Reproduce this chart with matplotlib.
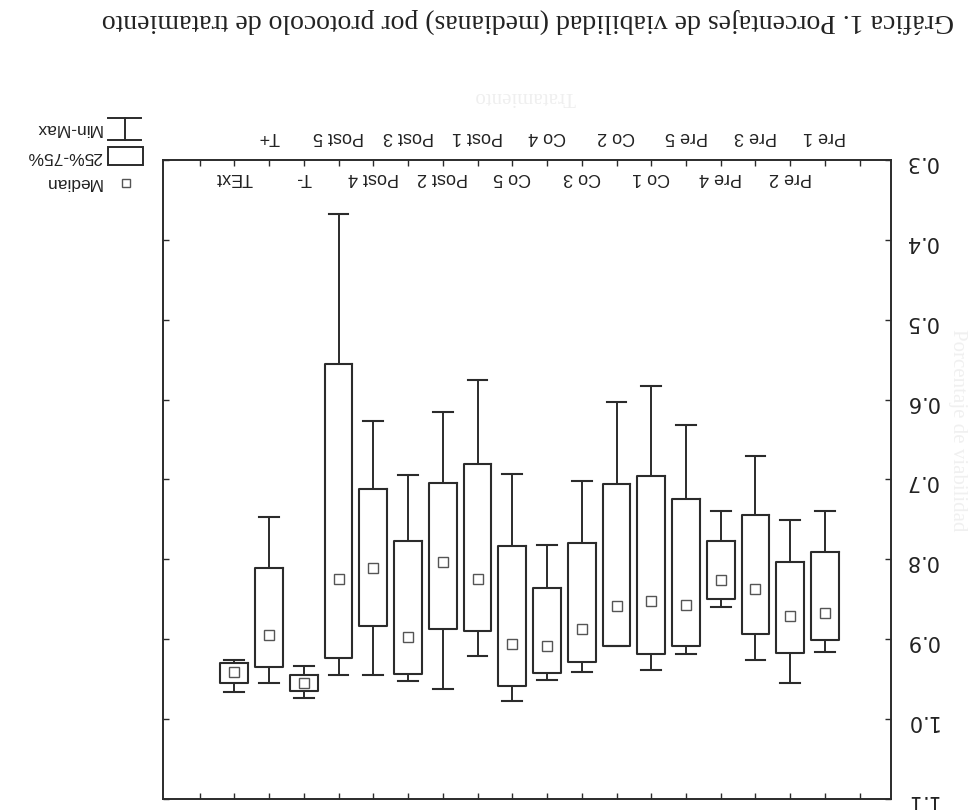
import matplotlib.pyplot as plt
import numpy as np
from matplotlib.patches import Rectangle

# Scanned page is upside down, so the whole chart is drawn rotated by 180 degrees
labels = ["Pre 1", "Pre 2", "Pre 3", "Pre 4", "Pre 5", "Co 1", "Co 2", "Co 3", "Co 4",
          "Co 5", "Post 1", "Post 2", "Post 3", "Post 4", "Post 5", "T-", "T+", "TExt"]
mins = [0.739, 0.751, 0.671, 0.740, 0.632, 0.583, 0.6025, 0.702, 0.7825,
        0.693, 0.576, 0.616, 0.695, 0.627, 0.368, 0.934, 0.7475, 0.926]
q1 = [0.7905, 0.803, 0.744, 0.7775, 0.724, 0.696, 0.706, 0.7795, 0.836,
      0.783, 0.680, 0.705, 0.7775, 0.7125, 0.555, 0.945, 0.811, 0.930]
medians = [0.8675, 0.871, 0.8375, 0.826, 0.8575, 0.852, 0.858, 0.887, 0.908,
           0.906, 0.825, 0.803, 0.897, 0.811, 0.824, 0.955, 0.895, 0.941]
q3 = [0.901, 0.917, 0.894, 0.850, 0.908, 0.9185, 0.909, 0.929, 0.942,
      0.959, 0.890, 0.887, 0.943, 0.884, 0.923, 0.965, 0.935, 0.955]
maxs = [0.9155, 0.955, 0.926, 0.860, 0.918, 0.939, 0.909, 0.941, 0.951,
        0.977, 0.921, 0.962, 0.952, 0.945, 0.945, 0.973, 0.955, 0.966]
yticks = [0.3, 0.4, 0.5, 0.6, 0.7, 0.8, 0.9, 1.0, 1.1]

title = "Gráfica 1. Porcentajes de viabilidad (medianas) por protocolo de tratamiento"
ink = "#2b2b2b"

fig = plt.figure(figsize=(9.74, 8.10), dpi=100)

# overlay in pixel coordinates for title / legend / faint labels
ov = fig.add_axes([0, 0, 1, 1])
ov.set_xlim(0, 974)
ov.set_ylim(810, 0)
ov.axis("off")

ax = fig.add_axes([0.1674, 0.0136, 0.7474, 0.7889])
pos = np.arange(len(labels))
stats = [dict(whislo=a, q1=b, med=c, q3=d, whishi=e)
         for a, b, c, d, e in zip(mins, q1, medians, q3, maxs)]
ax.bxp(stats, positions=pos, widths=0.8, capwidths=0.57, showfliers=False,
       boxprops=dict(color=ink, linewidth=1.5),
       whiskerprops=dict(color=ink, linewidth=1.4),
       capprops=dict(color=ink, linewidth=1.5),
       medianprops=dict(linewidth=0))
ax.plot(pos, medians, "s", ms=7, mfc="white", mec="#555555", mew=1.0, ls="none")

ax.set_xlim(19.05, -1.9)
ax.set_ylim(1.1, 0.3)
ax.set_xticks(np.arange(-1, 19))
ax.set_xticklabels([])
ax.set_yticks(yticks)
ax.set_yticklabels([f"{v:.1f}" for v in yticks])
ax.tick_params(axis="both", direction="in", length=4, width=1, color=ink,
               top=True, bottom=True, left=True, right=True)
ax.tick_params(axis="y", labelleft=False, labelright=True, labelrotation=180,
               labelsize=15, pad=10, labelcolor="#222222")
for s in ax.spines.values():
    s.set_color(ink)
    s.set_linewidth(1.4)

# staggered category labels, upside down
tr = ax.get_xaxis_transform()
for i, lab in enumerate(labels):
    y = 1.036 if i % 2 == 0 else 0.972
    ax.text(i, y, lab, transform=tr, rotation=180, ha="center", va="center",
            fontsize=13, color="#222222", family="Liberation Sans")

ov.text(528, 21, title, rotation=180, ha="center", va="center",
        fontsize=20, family="Liberation Serif", color="#222222")
ov.text(525, 96, "Tratamiento", rotation=180, ha="center", va="center",
        fontsize=15, family="Liberation Serif", color="#efefef")
ov.text(958, 430, "Porcentaje de viabilidad", rotation=270, ha="center", va="center",
        fontsize=15, family="Liberation Serif", color="#f0f0f0")

# legend (upside down)
ov.plot([108, 141], [118, 118], color=ink, lw=1.4)
ov.plot([108, 141], [140, 140], color=ink, lw=1.4)
ov.plot([124.5, 124.5], [118, 140], color=ink, lw=1.4)
ov.add_patch(Rectangle((108, 147), 35, 18, fill=False, ec=ink, lw=1.4))
ov.plot([126], [183], "s", ms=6, mfc="white", mec="#555555", mew=1.0)
for y, t in [(128, "Min-Max"), (156, "25%-75%"), (183, "Median")]:
    ov.text(102, y, t, rotation=180, ha="right", va="center",
            fontsize=12.5, family="Liberation Sans", color="#222222")

fig.savefig("out.png", dpi=100)
